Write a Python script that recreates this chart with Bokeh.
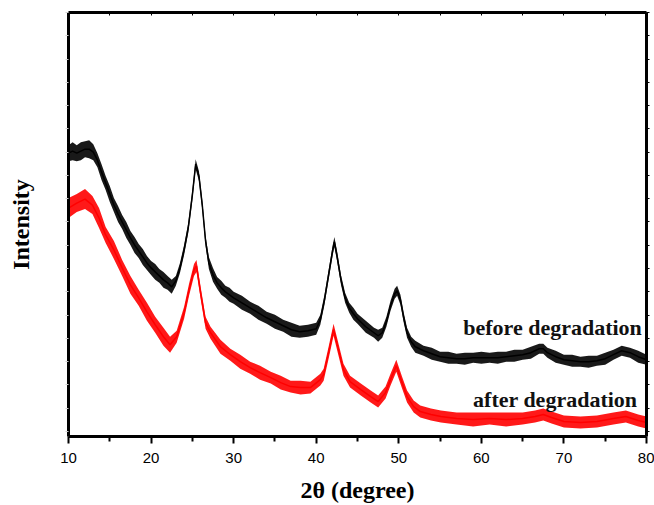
from bokeh.plotting import figure
from bokeh.models import Range1d, LinearAxis, FixedTicker, Label
from bokeh.embed import file_html
from bokeh.resources import INLINE

# ---- data (2theta in degrees, intensity in arbitrary units) ----
before_x = [10.0, 10.5, 11.0, 11.5, 12.0, 12.5, 13.0, 13.5, 14.0, 14.5,
            15.0, 15.5, 16.0, 16.5, 17.0, 17.5, 18.0, 18.5, 19.0, 19.5,
            20.0, 20.5, 21.0, 21.5, 22.0, 22.5, 23.0, 23.5, 24.0, 24.5,
            25.0, 25.4, 25.8, 26.2, 26.6, 27.0, 27.5, 28.0, 28.5, 29.0,
            29.5, 30.0, 31.0, 32.0, 33.0, 34.0, 35.0, 36.0, 37.0, 38.0,
            39.0, 40.0, 40.5, 41.0, 41.5, 42.0, 42.2, 42.5, 43.0, 43.5,
            44.0, 44.5, 45.0, 46.0, 47.0, 47.5, 48.0, 48.5, 49.0, 49.5,
            49.8, 50.2, 50.6, 51.0, 51.5, 52.0, 53.0, 54.0, 55.0, 56.0,
            57.0, 58.0, 59.0, 60.0, 61.0, 62.0, 63.0, 64.0, 65.0, 66.0,
            67.0, 67.5, 68.0, 69.0, 70.0, 71.0, 72.0, 73.0, 74.0, 75.0,
            76.0, 77.0, 78.0, 79.0, 80.0]
before_y = [284, 286, 284, 286, 288, 288, 285, 277, 265, 254,
            243, 232, 223, 215, 207, 199, 192, 186, 180, 174,
            169, 165, 161, 157, 154, 150, 156, 169, 187, 209,
            242, 273, 261, 232, 196, 174, 162, 154, 149, 145,
            142, 139, 134, 129, 124, 119, 115, 111, 107, 105,
            106, 108, 117, 137, 162, 187, 195, 182, 157, 139,
            129, 123, 118, 110, 104, 101, 104, 115, 131, 143,
            146, 137, 119, 104, 95, 90, 86, 83, 80, 79,
            78, 78, 79, 79, 79, 79, 80, 81, 82, 84,
            88, 88, 84, 80, 77, 76, 75, 75, 76, 78,
            82, 86, 84, 80, 77]
# half-width of the noise band
before_noise = [8, 9, 8, 9, 8, 9, 8, 7, 8, 7,
                8, 7, 8, 7, 8, 7, 8, 7, 8, 7,
                7, 8, 7, 8, 7, 7, 5, 5, 5, 5,
                5, 5, 5, 5, 5, 6, 7, 6, 7, 6,
                7, 6, 7, 6, 7, 6, 7, 6, 7, 6,
                6, 6, 5, 5, 5, 5, 5, 5, 5, 5,
                5, 6, 5, 6, 5, 6, 5, 5, 5, 5,
                5, 5, 5, 5, 5, 6, 5, 6, 5, 6,
                5, 6, 5, 6, 5, 6, 5, 6, 5, 6,
                5, 5, 5, 6, 5, 6, 5, 6, 5, 6,
                5, 5, 5, 6, 5]

after_x = [10.0, 11.0, 12.0, 12.9, 13.7, 14.5, 15.5, 16.5, 17.5, 18.5,
           19.5, 20.5, 21.5, 22.3, 23.1, 24.0, 24.6, 25.2, 25.5, 26.0,
           26.6, 27.2, 28.4, 29.6, 30.8, 32.0, 33.2, 34.5, 35.7, 36.9,
           38.1, 39.3, 40.5, 40.9, 41.5, 42.1, 42.7, 43.3, 44.1, 45.4,
           46.6, 47.5, 48.4, 49.0, 49.7, 50.4, 51.0, 51.8, 52.6, 53.9,
           55.1, 57.0, 59.0, 61.0, 63.0, 65.0, 66.5, 67.5, 68.5, 70.0,
           72.0, 74.0, 76.0, 77.5, 79.0, 80.0]
after_y = [229, 234, 238, 232, 219, 202, 187, 169, 152, 139,
           125, 112, 100, 92, 100, 124, 147, 167, 171, 144,
           114, 104, 90, 82, 75, 69, 64, 59, 54, 50,
           49, 49, 57, 62, 84, 107, 87, 67, 55, 47,
           40, 35, 44, 57, 71, 54, 40, 30, 25, 22,
           20, 18, 17, 18, 17, 18, 20, 22, 19, 15,
           14, 15, 18, 20, 16, 14]
after_noise = [10, 9, 10, 9, 10, 8, 9, 8, 9, 8,
               9, 8, 9, 8, 6, 6, 6, 6, 6, 6,
               6, 6, 7, 6, 7, 6, 7, 6, 7, 6,
               7, 6, 6, 6, 6, 6, 6, 6, 6, 6,
               6, 6, 6, 6, 6, 6, 6, 6, 6, 6,
               6, 6, 7, 6, 7, 6, 6, 6, 6, 6,
               6, 6, 6, 6, 6, 6]

x_ticks = [10, 20, 30, 40, 50, 60, 70, 80]
x_minor = [15, 25, 35, 45, 55, 65, 75]

SERIF = "Liberation Serif"
SANS = "Liberation Sans"

p = figure(width=654, height=505, output_backend="svg", toolbar_location=None,
           x_range=Range1d(10, 80), y_range=Range1d(0, 425),
           min_border_left=68, min_border_right=8, min_border_top=12,
           min_border_bottom=68, x_axis_location=None, y_axis_location=None)
p.xgrid.visible = False
p.ygrid.visible = False
p.outline_line_color = None
p.background_fill_color = "white"
p.border_fill_color = "white"

xt = FixedTicker(ticks=x_ticks, minor_ticks=x_minor)
y_tick_vals = [425 - 23.33 * k for k in range(19)]
yt = FixedTicker(ticks=y_tick_vals, minor_ticks=[])

bottom = LinearAxis(ticker=xt, axis_label="2θ (degree)",
                    axis_line_width=3, major_tick_line_width=2, minor_tick_line_width=2,
                    major_tick_out=7, major_tick_in=0, minor_tick_out=5, minor_tick_in=0,
                    major_label_standoff=9,
                    major_label_text_font=SANS, major_label_text_font_size="15px",
                    major_label_text_color="black",
                    axis_label_text_font=SERIF, axis_label_text_font_style="bold",
                    axis_label_text_color="black",
                    axis_label_text_font_size="24px", axis_label_standoff=11)
p.add_layout(bottom, "below")

top = LinearAxis(ticker=xt, axis_line_width=3, major_tick_line_width=1, minor_tick_line_width=1,
                 major_tick_out=0, major_tick_in=3, minor_tick_out=0, minor_tick_in=3,
                 major_label_text_font_size="1px", major_label_text_color=None,
                 major_label_standoff=0)
p.add_layout(top, "above")

left = LinearAxis(ticker=yt, axis_label="Intensity",
                  axis_line_width=3, major_tick_line_color="#cfcfcf",
                  major_tick_out=3, major_tick_in=0, minor_tick_line_color=None,
                  major_label_text_font_size="1px", major_label_text_color=None,
                  major_label_standoff=0,
                  axis_label_text_font=SERIF, axis_label_text_font_style="bold",
                  axis_label_text_color="black",
                  axis_label_text_font_size="24px", axis_label_standoff=32)
p.add_layout(left, "left")

right = LinearAxis(ticker=yt, axis_line_width=3, major_tick_line_width=1,
                   major_tick_out=3, major_tick_in=0, minor_tick_line_color=None,
                   major_label_text_font_size="1px", major_label_text_color=None,
                   major_label_standoff=0)
p.add_layout(right, "right")

series = [(before_x, before_y, before_noise, "black"),
          (after_x, after_y, after_noise, "#ff0000")]
for xs, ys, ns, col in series:
    lo = [y - n for y, n in zip(ys, ns)]
    hi = [y + n for y, n in zip(ys, ns)]
    p.varea(x=xs, y1=lo, y2=hi, fill_color=col, fill_alpha=0.9)
    p.line(xs, ys, line_color=col, line_width=1.5)

p.add_layout(Label(x=57.8, y=97, text="before degradation", text_font=SERIF,
                   text_font_style="bold", text_font_size="22px", text_color="#111111"))
p.add_layout(Label(x=59.0, y=25, text="after degradation", text_font=SERIF,
                   text_font_style="bold", text_font_size="22px", text_color="#111111"))

open("out.html", "w").write(file_html(p, INLINE))
